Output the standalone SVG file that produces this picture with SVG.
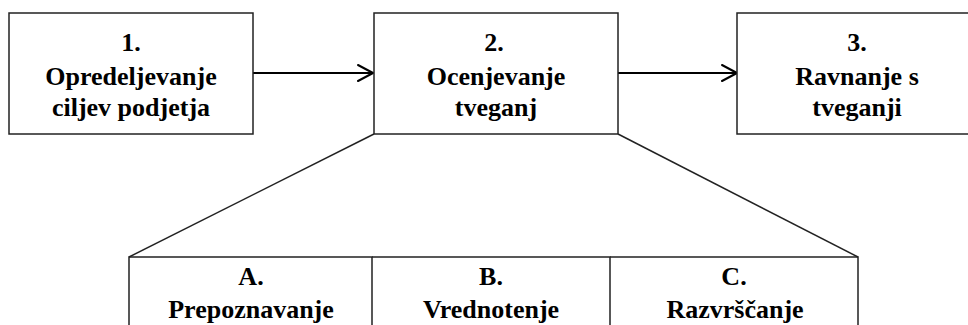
<svg xmlns="http://www.w3.org/2000/svg" width="968" height="325" viewBox="0 0 968 325">
<style>
.box{fill:#fff;stroke:#222;stroke-width:1.5}
.t{font-weight:700;font-size:26px;fill:#000;text-anchor:middle}
.c{fill:none;stroke:#000;stroke-width:2}
.h{fill:none;stroke:#000;stroke-width:2;stroke-linecap:round;stroke-linejoin:round}
.d{fill:none;stroke:#222;stroke-width:1.5}
</style>
<defs>
<marker id="arr" markerUnits="userSpaceOnUse" markerWidth="20" markerHeight="20" viewBox="-17 -10 20 20" refX="0" refY="0" orient="auto">
<path class="h" d="M-15,-8 L0,0 L-15,8"/>
</marker>
</defs>
<rect width="968" height="325" fill="#fff"/>
<g id="connectors">
<line class="c" x1="253" y1="73" x2="373" y2="73" marker-end="url(#arr)"/>
<line class="c" x1="618" y1="73" x2="737" y2="73" marker-end="url(#arr)"/>
<line class="d" x1="374" y1="134" x2="129" y2="257"/>
<line class="d" x1="618" y1="134" x2="858" y2="257"/>
</g>
<g font-family="Liberation Serif, Times New Roman, serif">
<g id="n1">
<rect class="box" x="9" y="13" width="244" height="121"/>
<text class="t" x="131" y="51">1.</text>
<text class="t" x="131" y="85">Opredeljevanje</text>
<text class="t" x="131" y="116">ciljev podjetja</text>
</g>
<g id="n2">
<rect class="box" x="374" y="13" width="244" height="121"/>
<text class="t" x="494" y="51">2.</text>
<text class="t" x="496" y="85">Ocenjevanje</text>
<text class="t" x="496" y="116">tveganj</text>
</g>
<g id="n3">
<rect class="box" x="737" y="13" width="240" height="121"/>
<text class="t" x="857" y="51">3.</text>
<text class="t" x="857" y="85">Ravnanje s</text>
<text class="t" x="857" y="116">tveganji</text>
</g>
<g id="nA">
<path class="d" d="M129,330 V257 H372 V330"/>
<text class="t" x="251" y="285">A.</text>
<text class="t" x="251" y="318">Prepoznavanje</text>
</g>
<g id="nB">
<path class="d" d="M372,257 H610 V330"/>
<text class="t" x="491" y="285">B.</text>
<text class="t" x="491" y="318">Vrednotenje</text>
</g>
<g id="nC">
<path class="d" d="M610,257 H858 V330"/>
<text class="t" x="734" y="285">C.</text>
<text class="t" x="735" y="318">Razvrščanje</text>
</g>
</g>
</svg>
